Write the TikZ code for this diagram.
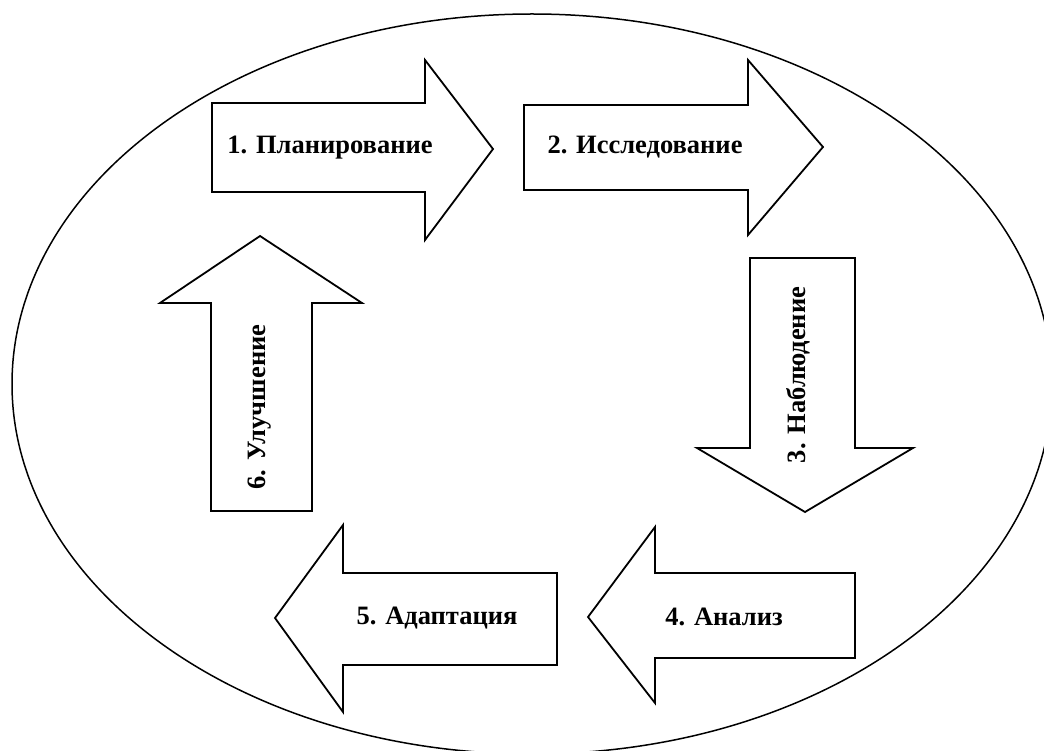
\documentclass[tikz,border=0pt]{standalone}
\usepackage{fontspec}
\setmainfont{Liberation Serif}
\begin{document}
\begin{tikzpicture}[x=1pt,y=-1pt,
  arrowshape/.style={draw=black,line width=1.8pt,fill=white,line join=miter},
  lbl/.style={font=\bfseries\fontsize{26.5}{30}\selectfont,inner sep=0pt,text=black}]
\useasboundingbox (0,0) rectangle (1044,751);
\clip (0,0) rectangle (1044,751);
\fill[white] (0,0) rectangle (1044,751);
% ellipse
\draw[line width=1.5pt] (532,384) ellipse [x radius=520pt, y radius=370pt];
% arrow 1 (right)
\draw[arrowshape] (212,103) -- (425,103) -- (425,60) -- (493,149) -- (425,240) -- (425,192) -- (212,192) -- cycle;
\node[lbl] (a1) at (330,148) {1. Планирование};
% arrow 2 (right)
\draw[arrowshape] (524,105) -- (748,105) -- (748,60) -- (823,147) -- (748,235) -- (748,190) -- (524,190) -- cycle;
\node[lbl] (a2) at (645,147) {2. Исследование};
% arrow 3 (down)
\draw[arrowshape] (750,258) -- (855,258) -- (855,448) -- (913,448) -- (805,512) -- (697,448) -- (750,448) -- cycle;
\node[lbl,rotate=90] (a3) at (798,375) {3. Наблюдение};
% arrow 4 (left)
\draw[arrowshape] (855,573) -- (655,573) -- (655,527) -- (588,617) -- (655,703) -- (655,658) -- (855,658) -- cycle;
\node[lbl] (a4) at (724,617) {4. Анализ};
% arrow 5 (left)
\draw[arrowshape] (557,573) -- (343,573) -- (343,525) -- (275,618) -- (343,712) -- (343,665) -- (557,665) -- cycle;
\node[lbl] (a5) at (437,618) {5. Адаптация};
% arrow 6 (up)
\draw[arrowshape] (211,511) -- (211,303) -- (160,303) -- (260,236) -- (362,303) -- (312,303) -- (312,511) -- cycle;
\node[lbl,rotate=90] (a6) at (260,407) {6. Улучшение};
\end{tikzpicture}
\end{document}
